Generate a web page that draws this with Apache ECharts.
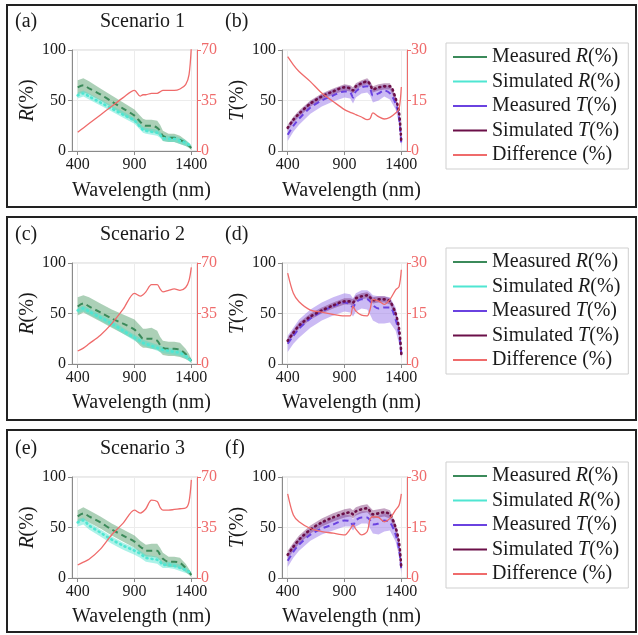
<!DOCTYPE html>
<html>
<head>
<meta charset="utf-8">
<script src="https://cdn.jsdelivr.net/npm/echarts@6/dist/echarts.min.js"></script>
<style>
  html, body { margin: 0; padding: 0; background: #fff; }
  #chart { width: 638px; height: 635px; }
</style>
</head>
<body>
<div id="chart"></div>
<script>
// wavelength samples (nm)
const wavelength = [400, 450, 500, 600, 700, 800, 900, 950, 975, 1000, 1050, 1100, 1125, 1150, 1200, 1250, 1300, 1350, 1380, 1400]

// Scenario 1 - reflectance
const measuredR1 = [63, 65, 62, 56, 49, 42, 35, 29, 26, 25, 25, 23, 20, 15, 13, 13, 11, 8, 5, 3]
const measuredR1Low = [56, 58, 56, 50, 43, 36, 29, 23, 21, 20, 19, 17, 15, 10, 9, 9, 7, 5, 3, 1]
const measuredR1High = [70, 72, 69, 62, 55, 48, 41, 35, 32, 31, 31, 30, 26, 20, 17, 17, 15, 11, 8, 5]
const simulatedR1 = [55, 57, 54, 48, 42, 36, 30, 24, 21, 20, 19, 18, 16, 13, 12, 12, 10, 8, 6, 4]
const simulatedR1Low = [52, 54, 51, 45, 39, 33, 27, 21, 18, 17, 16, 15, 13, 10, 9, 9, 7, 5, 4, 2]
const simulatedR1High = [58, 60, 57, 51, 45, 39, 33, 27, 24, 23, 22, 21, 19, 16, 15, 15, 13, 11, 8, 6]
const differenceR1 = [13, 16, 19, 25, 31, 37, 42, 38, 39, 39, 40, 40, 41, 42, 42, 42, 43, 46, 53, 72]

// Scenario 1 - transmittance
const measuredT1 = [16, 25, 32, 43, 50, 55, 59, 58, 53, 59, 63, 64, 62, 55, 57, 60, 57, 47, 33, 7]
const measuredT1Low = [10, 19, 26, 37, 44, 49, 53, 52, 47, 53, 57, 58, 55, 48, 50, 54, 51, 41, 27, 4]
const measuredT1High = [22, 31, 38, 49, 56, 61, 65, 64, 59, 65, 69, 70, 68, 61, 63, 66, 63, 53, 39, 10]
const simulatedT1 = [23, 31, 37, 47, 54, 59, 63, 62, 60, 64, 67, 69, 66, 61, 63, 64, 64, 52, 38, 8]
const simulatedT1Low = [20, 28, 34, 44, 51, 56, 60, 59, 57, 61, 64, 66, 63, 58, 60, 61, 61, 49, 35, 6]
const simulatedT1High = [26, 34, 40, 50, 57, 62, 66, 65, 63, 67, 70, 72, 69, 64, 66, 67, 67, 55, 41, 10]
const differenceT1 = [28, 25.6, 23.6, 20.6, 17.2, 14.7, 12.3, 11.5, 11.2, 10.8, 10.1, 9.3, 9.6, 11.3, 10.2, 9.5, 10, 11.3, 12.5, 19]

// Scenario 2 - reflectance
const measuredR2 = [57, 60, 57, 51, 45, 40, 34, 28, 25, 25, 25, 23, 19, 16, 15, 15, 14, 10, 6, 3]
const measuredR2Low = [48, 51, 48, 42, 36, 30, 24, 18, 16, 16, 15, 14, 12, 9, 8, 8, 7, 5, 3, 1]
const measuredR2High = [66, 68, 66, 60, 54, 49, 44, 38, 35, 35, 36, 33, 27, 23, 22, 22, 21, 15, 10, 5]
const simulatedR2 = [53, 55, 52, 46, 40, 33, 26, 23, 21, 20, 18, 16, 15, 14, 13, 12, 11, 8, 5, 3]
const simulatedR2Low = [50, 52, 49, 43, 37, 30, 23, 20, 18, 17, 15, 13, 12, 11, 10, 9, 8, 5, 3, 1]
const simulatedR2High = [56, 58, 55, 49, 43, 36, 29, 26, 24, 23, 21, 19, 18, 17, 16, 15, 14, 11, 7, 5]
const differenceR2 = [9, 11, 14, 20, 28, 38, 49, 47, 48, 50, 55, 55, 52, 50, 51, 52, 51, 53, 58, 67]

// Scenario 2 - transmittance
const measuredT2 = [20, 28, 35, 45, 52, 57, 61, 59, 56, 61, 64, 64, 62, 58, 55, 56, 56, 44, 30, 10]
const measuredT2Low = [12, 20, 26, 36, 43, 48, 52, 51, 47, 52, 55, 54, 49, 43, 40, 40, 41, 33, 20, 5]
const measuredT2High = [28, 36, 44, 54, 61, 66, 70, 69, 65, 70, 73, 73, 71, 68, 67, 67, 66, 56, 40, 14]
const simulatedT2 = [23, 31, 38, 47, 53, 58, 62, 62, 61, 65, 67, 68, 66, 63, 64, 64, 62, 50, 35, 10]
const simulatedT2Low = [20, 28, 35, 44, 50, 55, 59, 59, 58, 62, 64, 65, 63, 60, 61, 61, 59, 47, 32, 8]
const simulatedT2High = [26, 34, 41, 50, 56, 61, 65, 65, 64, 68, 70, 71, 69, 66, 67, 67, 65, 53, 38, 12]
const differenceT2 = [27, 21, 18.5, 16, 15.4, 14.7, 14.3, 14.3, 17.2, 15.7, 14.5, 14.3, 16.2, 19.2, 18.7, 17.7, 19.2, 22, 23, 28]

// Scenario 3 - reflectance
const measuredR3 = [61, 64, 61, 55, 48, 42, 36, 31, 29, 27, 27, 27, 23, 19, 16, 16, 15, 10, 6, 3]
const measuredR3Low = [55, 58, 55, 49, 42, 36, 30, 25, 23, 21, 21, 20, 17, 13, 11, 11, 10, 6, 3, 1]
const measuredR3High = [67, 70, 67, 61, 54, 48, 42, 37, 35, 33, 34, 34, 30, 25, 21, 21, 20, 14, 9, 5]
const simulatedR3 = [55, 57, 52, 45, 38, 32, 27, 24, 22, 20, 19, 18, 16, 13, 13, 12, 10, 8, 6, 4]
const simulatedR3Low = [51, 53, 48, 41, 34, 28, 23, 20, 18, 16, 15, 14, 12, 10, 10, 9, 7, 5, 4, 2]
const simulatedR3High = [58, 60, 55, 48, 41, 35, 30, 27, 25, 23, 22, 21, 19, 16, 16, 15, 13, 11, 8, 6]
const differenceR3 = [9, 11, 13, 20, 30, 38, 47, 45, 46, 48, 54, 53, 49, 47, 47, 47.5, 48, 48.5, 53, 68]

// Scenario 3 - transmittance
const measuredT3 = [17, 26, 33, 43, 49, 53, 57, 56, 52, 57, 60, 60, 57, 53, 54, 57, 55, 43, 28, 8]
const measuredT3Low = [11, 20, 27, 37, 43, 47, 51, 51, 47, 51, 54, 54, 49, 44, 43, 46, 47, 36, 22, 4]
const measuredT3High = [23, 32, 39, 49, 55, 59, 63, 62, 58, 63, 66, 66, 64, 61, 62, 64, 62, 50, 34, 12]
const simulatedT3 = [23, 31, 38, 48, 55, 60, 64, 65, 63, 66, 68, 69, 66, 63, 64, 65, 63, 50, 35, 10]
const simulatedT3Low = [19, 27, 34, 44, 51, 56, 60, 61, 59, 62, 64, 65, 62, 59, 60, 61, 59, 46, 31, 7]
const simulatedT3High = [27, 35, 42, 52, 59, 64, 68, 69, 67, 70, 72, 73, 70, 67, 68, 69, 67, 54, 39, 13]
const differenceT3 = [25, 18.7, 16.7, 14.7, 13.8, 13.3, 12.8, 14.5, 15.7, 14.5, 12.8, 13.8, 17.5, 18.2, 18, 16.7, 17.7, 20.2, 21.6, 25]

const xTicks = [400, 900, 1400]
const scenarioNames = ['Scenario 1', 'Scenario 2', 'Scenario 3']
const panelLetters = [['(a)', '(b)'], ['(c)', '(d)'], ['(e)', '(f)']]
const legendNames = ['Measured R(%)', 'Simulated R(%)', 'Measured T(%)', 'Simulated T(%)', 'Difference (%)']

const rows = [
  {
    R: [measuredR1, measuredR1Low, measuredR1High, simulatedR1, simulatedR1Low, simulatedR1High, differenceR1],
    T: [measuredT1, measuredT1Low, measuredT1High, simulatedT1, simulatedT1Low, simulatedT1High, differenceT1]
  },
  {
    R: [measuredR2, measuredR2Low, measuredR2High, simulatedR2, simulatedR2Low, simulatedR2High, differenceR2],
    T: [measuredT2, measuredT2Low, measuredT2High, simulatedT2, simulatedT2Low, simulatedT2High, differenceT2]
  },
  {
    R: [measuredR3, measuredR3Low, measuredR3High, simulatedR3, simulatedR3Low, simulatedR3High, differenceR3],
    T: [measuredT3, measuredT3Low, measuredT3High, simulatedT3, simulatedT3Low, simulatedT3High, differenceT3]
  }
]

const FONT = 'Liberation Serif'
const TXT = '#1a1a1a'
const RED = '#ef6b6b'
const colors = {
  mR: '#3b8a5a', mRband: 'rgba(70,150,95,0.45)',
  sR: '#4fe6d2', sRband: 'rgba(72,226,205,0.45)',
  mT: '#6a42e0', mTband: 'rgba(160,130,235,0.55)',
  sT: '#6b0f48', sTband: 'rgba(125,50,120,0.45)'
}

const rowTops = [50, 263, 477]
const rowBoxes = [[5, 202], [217, 203], [430, 202]]
const legendTops = [43, 248, 462]
const plotLefts = [72, 282]
const plotW = 125
const plotH = 101

const pairs = arr => wavelength.map((w, k) => [w, arr[k]])

const grid = [], xAxis = [], yAxis = [], series = [], title = [], legend = [], graphic = []

const rich = {
  t: { fontFamily: FONT, fontSize: 20, color: TXT, lineHeight: 20 },
  i: { fontFamily: FONT, fontSize: 20, fontStyle: 'italic', color: TXT, lineHeight: 20 }
}

// shaded uncertainty band between lo and hi, drawn as one polygon
function band (id, lo, hi, color, xi, yi) {
  return {
    type: 'custom', name: id, xAxisIndex: xi, yAxisIndex: yi, silent: true, z: 1,
    data: wavelength.map((w, k) => [w, lo[k], hi[k]]),
    encode: { x: 0, y: [1, 2] },
    renderItem: (params, api) => {
      if (params.dataIndex !== 0) return null
      const top = wavelength.map((w, k) => api.coord([w, hi[k]]))
      const bottom = wavelength.map((w, k) => api.coord([w, lo[k]])).reverse()
      return {
        type: 'polygon',
        shape: { points: top.concat(bottom) },
        style: { fill: color }
      }
    }
  }
}

rows.forEach((row, r) => {
  ['R', 'T'].forEach((kind, c) => {
    const g = r * 2 + c
    const d = row[kind]
    grid.push({ left: plotLefts[c], top: rowTops[r], width: plotW, height: plotH, show: true, borderColor: '#d4d4d4', borderWidth: 1 })
    xAxis.push({
      gridIndex: g, type: 'value', min: 350, max: 1450,
      axisLine: { lineStyle: { color: '#8a8a8a' } },
      axisTick: { show: true, customValues: xTicks, length: 4, lineStyle: { color: '#8a8a8a' } },
      axisLabel: { customValues: xTicks, fontFamily: FONT, fontSize: 16, color: TXT, margin: 6, formatter: v => String(v) },
      splitLine: { show: true, lineStyle: { color: '#ececec' } },
      name: 'Wavelength (nm)', nameLocation: 'middle', nameGap: r === 0 ? 30 : 29,
      nameTextStyle: { fontFamily: FONT, fontSize: 20, color: TXT, padding: [0, 0, 0, 14] }
    })
    yAxis.push({
      gridIndex: g, type: 'value', min: 0, max: 100, interval: 50, position: 'left',
      axisLine: { show: true, lineStyle: { color: '#8a8a8a' } },
      axisTick: { show: true, length: 4, lineStyle: { color: '#8a8a8a' } },
      axisLabel: { fontFamily: FONT, fontSize: 16, color: TXT, margin: 6 },
      splitLine: { show: true, lineStyle: { color: '#ececec' } },
      name: '{i|' + kind + '}{t|(%)}', nameLocation: 'middle', nameGap: kind === 'R' ? 34 : 31,
      nameTextStyle: { fontFamily: FONT, fontSize: 20, rich }
    })
    yAxis.push({
      gridIndex: g, type: 'value', min: 0,
      max: kind === 'R' ? 70 : 30, interval: kind === 'R' ? 35 : 15, position: 'right',
      axisLine: { show: true, lineStyle: { color: RED } },
      axisTick: { show: true, length: 4, lineStyle: { color: RED } },
      axisLabel: { fontFamily: FONT, fontSize: 16, color: RED, margin: 4 },
      splitLine: { show: false }
    })
    const yl = g * 2, yr = g * 2 + 1
    const mc = kind === 'R' ? colors.mR : colors.mT
    const sc = kind === 'R' ? colors.sR : colors.sT
    const mb = kind === 'R' ? colors.mRband : colors.mTband
    const sb = kind === 'R' ? colors.sRband : colors.sTband
    series.push(band('m' + kind + g, d[1], d[2], mb, g, yl))
    series.push(band('s' + kind + g, d[4], d[5], sb, g, yl))
    series.push({
      type: 'line', name: 'Measured ' + kind + '(%)', xAxisIndex: g, yAxisIndex: yl,
      data: pairs(d[0]), symbol: 'none', smooth: 0.3, z: 3,
      itemStyle: { color: mc }, lineStyle: { color: mc, width: 2, type: [6, 4] }
    })
    series.push({
      type: 'line', name: 'Simulated ' + kind + '(%)', xAxisIndex: g, yAxisIndex: yl,
      data: pairs(d[3]), symbol: 'none', smooth: 0.3, z: 4,
      itemStyle: { color: sc }, lineStyle: { color: sc, width: 2.6, type: [1, 4], cap: 'round' }
    })
    series.push({
      type: 'line', name: 'Difference (%)', xAxisIndex: g, yAxisIndex: yr,
      data: pairs(d[6]), symbol: 'none', smooth: 0.3, z: 5,
      itemStyle: { color: RED }, lineStyle: { color: RED, width: 1.3 }
    })
    title.push({
      text: panelLetters[r][c], left: c === 0 ? 15 : 225, top: rowTops[r] - 38, padding: 0,
      textStyle: { fontFamily: FONT, fontSize: 20, fontWeight: 'normal', color: TXT }
    })
  })
  title.push({
    text: scenarioNames[r], left: 100, top: rowTops[r] - 38, padding: 0,
    textStyle: { fontFamily: FONT, fontSize: 20, fontWeight: 'normal', color: TXT }
  })
  legend.push({
    data: legendNames, orient: 'vertical', left: 446, top: legendTops[r],
    icon: 'rect', itemWidth: 34, itemHeight: 2, itemGap: 4.5,
    borderColor: '#cfcfcf', borderWidth: 1, padding: [4, 8, 4, 7],
    selectedMode: false,
    formatter: n => {
      if (n === 'Difference (%)') return '{t|Difference (%)}'
      const parts = n.split(' ')
      return '{t|' + parts[0] + ' }{i|' + parts[1][0] + '}{t|(%)}'
    },
    textStyle: { fontFamily: FONT, fontSize: 20, rich }
  })
  graphic.push({
    type: 'rect', shape: { x: 7, y: rowBoxes[r][0], width: 629, height: rowBoxes[r][1] },
    style: { fill: 'none', stroke: '#222', lineWidth: 2 }, silent: true
  })
})

const myChart = echarts.init(document.getElementById('chart'))
const option = {
  animation: false,
  backgroundColor: '#fff',
  title, legend, grid, xAxis, yAxis, series, graphic
}
option && myChart.setOption(option)

window.addEventListener('resize', function () {
  myChart.resize()
})
</script>
</body>
</html>
